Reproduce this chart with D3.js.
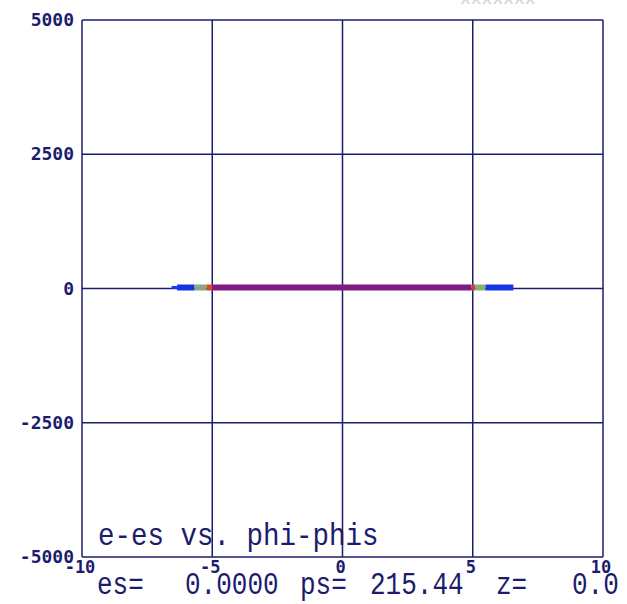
<!DOCTYPE html>
<html>
<head>
<meta charset="utf-8">
<script src="https://cdn.jsdelivr.net/npm/d3@7"></script>
<style>
  body { margin: 0; background: #fff; }
  svg { display: block; }
</style>
</head>
<body>
<div id="chart"></div>
<script>
var width = 627;
var height = 604;

// axis ticks
var xTicks = [-10, -5, 0, 5, 10];
var yTicks = [5000, 2500, 0, -2500, -5000];

// band segments along e-es = 0 (phi-phis start, end, colour)
var segStart = [-6.56, -6.35, -5.68, -5.22, -4.99, 4.95, 5.1, 5.49];
var segEnd = [-6.35, -5.68, -5.22, -4.99, 4.95, 5.1, 5.49, 6.56];
var segE = [0, 0, 0, 0, 0, 0, 0, 0];
var segColor = ["#1a3ae0", "#1432e6", "#8aa68a", "#d24a28", "#7e1a82", "#d0402a", "#86b070", "#1436e8"];
var segThick = [3, 6, 6, 6, 6, 6, 6, 6];

// status line under the plot
var statusText = ["es=", "0.0000", "ps=", "215.44", "z=", "0.0"];
var statusX = [97, 185, 300, 370, 496, 572];

var ink = "#1c1c6e";

var svg = d3
  .select("#chart")
  .append("svg")
  .attr("width", width)
  .attr("height", height);

var x = d3.scaleLinear().domain([-10, 10]).range([82, 603]);
var y = d3.scaleLinear().domain([-5000, 5000]).range([557, 20]);

// faint cut-off header text
svg
  .append("text")
  .attr("x", 460)
  .attr("y", 4)
  .attr("font-family", "Liberation Mono")
  .attr("font-size", 18)
  .attr("fill", "#d0d0dc")
  .text("xxxxxxx");

// grid
svg
  .selectAll(".vgrid")
  .data(xTicks)
  .enter()
  .append("line")
  .attr("class", "vgrid")
  .attr("x1", function(d) { return x(d); })
  .attr("x2", function(d) { return x(d); })
  .attr("y1", y(5000))
  .attr("y2", y(-5000))
  .attr("stroke", ink)
  .attr("stroke-width", 1.5);

svg
  .selectAll(".hgrid")
  .data(yTicks)
  .enter()
  .append("line")
  .attr("class", "hgrid")
  .attr("x1", x(-10))
  .attr("x2", x(10))
  .attr("y1", function(d) { return y(d); })
  .attr("y2", function(d) { return y(d); })
  .attr("stroke", ink)
  .attr("stroke-width", 1.5);

// band
svg
  .selectAll(".seg")
  .data(segStart)
  .enter()
  .append("line")
  .attr("class", "seg")
  .attr("x1", function(d) { return x(d); })
  .attr("x2", function(d, i) { return x(segEnd[i]); })
  .attr("y1", function(d, i) { return y(segE[i]) - 1; })
  .attr("y2", function(d, i) { return y(segE[i]) - 1; })
  .attr("stroke", function(d, i) { return segColor[i]; })
  .attr("stroke-width", function(d, i) { return segThick[i]; });

// y labels
svg
  .selectAll(".ylab")
  .data(yTicks)
  .enter()
  .append("text")
  .attr("class", "ylab")
  .attr("x", 74)
  .attr("y", function(d) { return y(d) + 6; })
  .attr("text-anchor", "end")
  .attr("font-family", "DejaVu Sans Mono")
  .attr("font-weight", "bold")
  .attr("font-size", 18)
  .attr("fill", ink)
  .text(function(d) { return d; });

// x labels
svg
  .selectAll(".xlab")
  .data(xTicks)
  .enter()
  .append("text")
  .attr("class", "xlab")
  .attr("x", function(d) { return x(d) - 2; })
  .attr("y", 573)
  .attr("text-anchor", "middle")
  .attr("font-family", "DejaVu Sans Mono")
  .attr("font-weight", "bold")
  .attr("font-size", 17)
  .attr("fill", ink)
  .text(function(d) { return d; });

// title inside plot
svg
  .append("text")
  .attr("transform", "translate(98,545) scale(1,1.15)")
  .attr("font-family", "Liberation Mono")
  .attr("font-size", 27.5)
  .attr("fill", ink)
  .text("e-es vs. phi-phis");

// status line
svg
  .selectAll(".status")
  .data(statusText)
  .enter()
  .append("text")
  .attr("class", "status")
  .attr("transform", function(d, i) { return "translate(" + statusX[i] + ",594) scale(1,1.2)"; })
  .attr("font-family", "Liberation Mono")
  .attr("font-size", 26)
  .attr("fill", ink)
  .text(function(d) { return d; });
</script>
</body>
</html>
